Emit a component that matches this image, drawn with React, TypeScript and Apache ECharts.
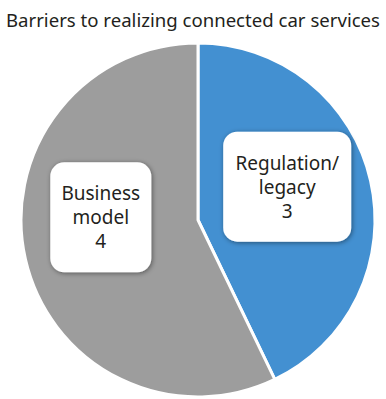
import React, { useEffect, useRef } from "react";
import * as echarts from "echarts";

const titleText = "Barriers to realizing connected car services";
const categories = ["Regulation/\nlegacy", "Business\nmodel"];
const values = [3, 4];
const colors = ["#4390d1", "#9d9d9d"];

export default function App() {
  const ref = useRef<HTMLDivElement>(null);
  useEffect(() => {
    const chart = echarts.init(ref.current!, null, { renderer: "svg" });
    const labelOffsets = [
      [0, -13],
      [-8, -23],
    ];
    const labelWidths = [128, 101];
    chart.setOption({
      animation: false,
      backgroundColor: "#ffffff",
      title: {
        text: titleText,
        left: "center",
        top: 5,
        textStyle: {
          fontFamily: "Noto Sans",
          fontSize: 18.6,
          fontWeight: "normal",
          color: "#231f20",
        },
      },
      series: [
        {
          type: "pie",
          center: [198, 220],
          radius: 177,
          startAngle: 90,
          clockwise: true,
          label: { show: true },
          labelLine: { show: false },
          itemStyle: { borderColor: "#ffffff", borderWidth: 3 },
          data: categories.map((c, i) => ({
            name: c,
            value: values[i],
            itemStyle: { color: colors[i] },
            label: {
              show: true,
              position: "inside",
              formatter: "{b}\n{c}",
              offset: labelOffsets[i],
              fontFamily: "Noto Sans",
              fontSize: 19,
              lineHeight: 24,
              color: "#231f20",
              align: "center",
              backgroundColor: "#ffffff",
              borderRadius: 14,
              width: labelWidths[i],
              padding: [19, 0],
              shadowBlur: 5,
              shadowColor: "rgba(0,0,0,0.45)",
              shadowOffsetX: 1,
              shadowOffsetY: 1,
            },
          })),
        },
      ],
    });
    return () => chart.dispose();
  }, []);
  return (
    <div
      ref={ref}
      style={{ position: "absolute", left: 0, top: 0, width: 386, height: 399 }}
    />
  );
}
